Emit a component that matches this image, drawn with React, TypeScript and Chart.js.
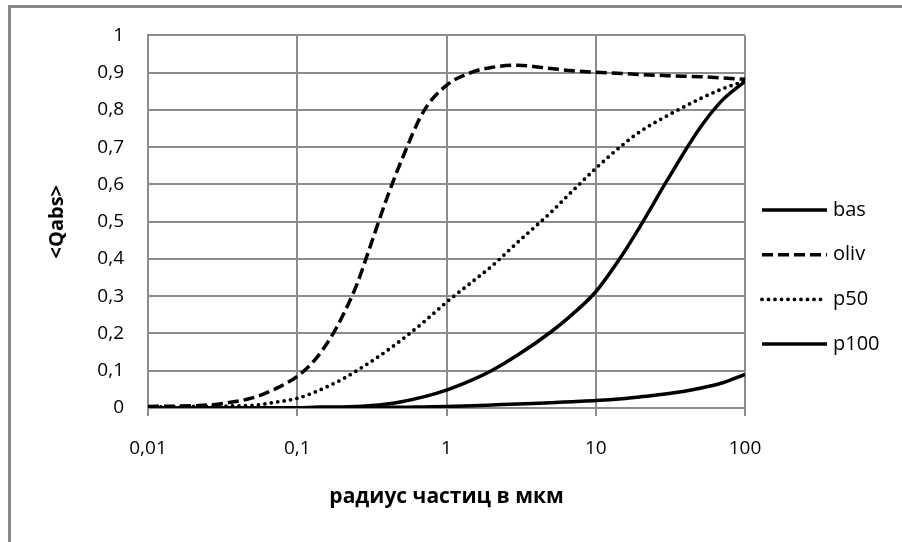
import React, { useEffect, useRef } from "react";
import { Chart, registerables } from "chart.js";

Chart.register(...registerables);

// particle radius, µm (log axis)
const radius = [0.01, 0.015, 0.02, 0.03, 0.05, 0.07, 0.1, 0.13, 0.17, 0.2, 0.25, 0.3, 0.4, 0.5, 0.7, 1, 1.5, 2, 3, 5, 7, 10, 15, 20, 30, 50, 70, 100];

const bas = [0, 0, 0, 0, 0, 0.001, 0.001, 0.002, 0.003, 0.003, 0.004, 0.006, 0.011, 0.017, 0.03, 0.048, 0.076, 0.1, 0.142, 0.204, 0.252, 0.312, 0.41, 0.49, 0.61, 0.752, 0.825, 0.877];
const oliv = [0.004, 0.005, 0.006, 0.011, 0.027, 0.05, 0.085, 0.127, 0.193, 0.245, 0.33, 0.42, 0.565, 0.665, 0.795, 0.866, 0.902, 0.914, 0.92, 0.911, 0.905, 0.901, 0.898, 0.895, 0.892, 0.889, 0.886, 0.882];
const p50 = [0.003, 0.003, 0.004, 0.005, 0.007, 0.015, 0.026, 0.042, 0.063, 0.077, 0.1, 0.12, 0.154, 0.183, 0.23, 0.284, 0.34, 0.38, 0.445, 0.525, 0.583, 0.643, 0.705, 0.743, 0.784, 0.83, 0.856, 0.878];
const p100 = [0, 0, 0, 0, 0, 0, 0, 0.001, 0.001, 0.001, 0.001, 0.001, 0.002, 0.002, 0.003, 0.004, 0.006, 0.008, 0.011, 0.014, 0.017, 0.02, 0.025, 0.03, 0.038, 0.053, 0.067, 0.09];

const seriesNames = ["bas", "oliv", "p50", "p100"];
const xTickValues = [0.01, 0.1, 1, 10, 100];
const yMin = 0;
const yMax = 1;
const yStep = 0.1;
const xTitle = "радиус частиц в мкм";
const yTitle = "<Qabs>";

const FONT = '"Open Sans", "Noto Sans", sans-serif';
const GRID = "#8c8c8c";

const fmt = (v: number) => String(Math.round(v * 100) / 100).replace(".", ",");

const legendPlugin = {
  id: "sideLegend",
  afterDraw(chart: any) {
    const ctx = chart.ctx;
    const area = chart.chartArea;
    const x0 = area.right + 17;
    const x1 = x0 + 65;
    chart.data.datasets.forEach((ds: any, i: number) => {
      const y = 210 + i * 44.7;
      ctx.save();
      ctx.strokeStyle = ds.borderColor;
      ctx.lineWidth = ds.borderWidth;
      ctx.lineCap = ds.borderCapStyle || "butt";
      ctx.setLineDash(ds.borderDash || []);
      ctx.beginPath();
      ctx.moveTo(x0, y);
      ctx.lineTo(x1, y);
      ctx.stroke();
      ctx.setLineDash([]);
      ctx.fillStyle = "#000";
      ctx.font = `20px ${FONT}`;
      ctx.textAlign = "left";
      ctx.textBaseline = "middle";
      ctx.fillText(ds.label, x1 + 6, y);
      ctx.restore();
    });
  },
};

export default function App() {
  const canvasRef = useRef<HTMLCanvasElement | null>(null);

  useEffect(() => {
    let chart: Chart | null = null;
    let cancelled = false;
    const build = () => {
      if (cancelled || !canvasRef.current) return;
      const seriesValues = [bas, oliv, p50, p100];
      const styles = [
        { borderDash: [] as number[], borderCapStyle: "butt" },
        { borderDash: [11, 5], borderCapStyle: "butt" },
        { borderDash: [0, 6.5], borderCapStyle: "round" },
        { borderDash: [] as number[], borderCapStyle: "butt" },
      ];
      chart = new Chart(canvasRef.current, {
        type: "line",
        data: {
          datasets: seriesNames.map((name, i) => ({
            label: name,
            data: radius.map((r, j) => ({ x: r, y: seriesValues[i][j] })),
            borderColor: "#000",
            borderWidth: i === 2 ? 3.8 : 3.5,
            borderDash: styles[i].borderDash,
            borderCapStyle: styles[i].borderCapStyle as any,
            pointRadius: 0,
            fill: false,
            cubicInterpolationMode: "monotone" as const,
          })),
        },
        options: {
          animation: false,
          responsive: false,
          maintainAspectRatio: false,
          devicePixelRatio: 1,
          layout: { padding: { left: 0, top: 33, right: 157, bottom: 0 } },
          plugins: { legend: { display: false }, tooltip: { enabled: false } },
          scales: {
            x: {
              type: "logarithmic",
              min: 0.01,
              max: 100,
              afterBuildTicks: (scale: any) => {
                scale.ticks = xTickValues.map((v) => ({ value: v }));
              },
              afterFit: (scale: any) => {
                scale.height = 134;
              },
              ticks: {
                color: "#000",
                font: { family: FONT, size: 19 },
                padding: 21,
                maxRotation: 0,
                autoSkip: false,
                callback: (v: any) => fmt(Number(v)),
              },
              grid: { color: GRID, lineWidth: 2, tickLength: 8, drawTicks: true },
              border: { display: true, color: GRID, width: 2 },
              title: {
                display: true,
                text: xTitle,
                color: "#000",
                font: { family: FONT, size: 21, weight: "bold" },
                padding: { top: 0, bottom: 32 },
              },
            },
            y: {
              type: "linear",
              min: yMin,
              max: yMax,
              afterFit: (scale: any) => {
                scale.width = 148;
              },
              ticks: {
                stepSize: yStep,
                color: "#000",
                font: { family: FONT, size: 19 },
                padding: 24,
                callback: (v: any) => fmt(Number(v)),
              },
              grid: { color: GRID, lineWidth: 2, drawTicks: false },
              border: { display: true, color: GRID, width: 2 },
              title: {
                display: true,
                text: yTitle,
                color: "#000",
                font: { family: FONT, size: 20, weight: "bold" },
                padding: { top: 45, bottom: 0 },
              },
            },
          },
        },
        plugins: [legendPlugin],
      });
    };
    const fontsReady = (document as any).fonts
      ? Promise.all([
          (document as any).fonts.load(`19px ${FONT}`),
          (document as any).fonts.load(`bold 20px ${FONT}`),
        ]).catch(() => null)
      : Promise.resolve(null);
    fontsReady.then(build);
    return () => {
      cancelled = true;
      if (chart) chart.destroy();
    };
  }, []);

  return (
    <div
      style={{
        position: "fixed",
        left: 0,
        top: 0,
        width: 902,
        height: 542,
        overflow: "hidden",
        background: "#fff",
      }}
    >
      <div
        style={{
          position: "absolute",
          left: 8,
          top: 5,
          width: 1000,
          height: 1000,
          border: "3px solid #878787",
          boxSizing: "border-box",
        }}
      />
      <canvas
        ref={canvasRef}
        width={902}
        height={542}
        style={{ position: "absolute", left: 0, top: 0, width: 902, height: 542 }}
      />
    </div>
  );
}
